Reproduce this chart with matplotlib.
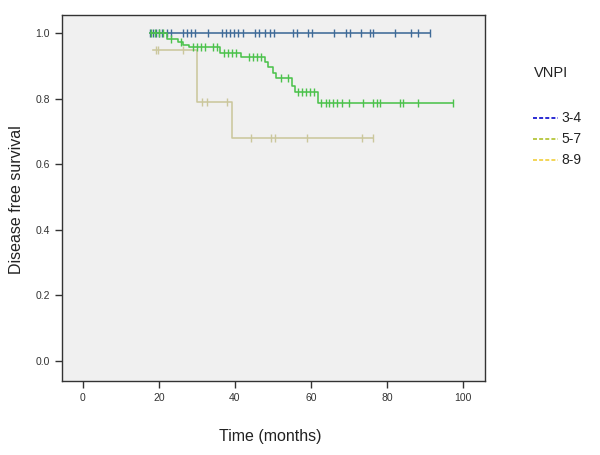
import numpy as np
import matplotlib
matplotlib.use("Agg")
import matplotlib.pyplot as plt
from matplotlib.lines import Line2D

plt.rcParams['font.family'] = ['Liberation Sans', 'DejaVu Sans']

# ---- data ----
groups = ["3-4", "5-7", "8-9"]

# group 3-4 : no events
blue_start, blue_s0 = 17.6, 1.0
blue_event_t = []
blue_event_s = []
blue_cens = [17.6, 18.4, 19.2, 20.0, 20.8, 22.1, 23.2, 26.3, 27.4, 28.4, 29.5, 32.9,
             36.6, 37.6, 38.7, 39.7, 40.8, 42.1, 45.3, 46.3, 47.9, 49.2, 50.3,
             55.3, 56.3, 59.2, 60.3, 66.1, 69.2, 70.3, 73.2, 75.5, 76.3, 82.1,
             86.3, 88.2, 91.3]

# group 5-7
green_start, green_s0 = 17.6, 1.0
green_event_t = [22.0, 25.0, 26.3, 27.8, 36.0, 41.6, 47.9, 48.8, 49.9, 50.8, 55.0, 55.8, 61.8]
green_event_s = [0.981, 0.972, 0.964, 0.957, 0.940, 0.928, 0.912, 0.895, 0.877, 0.862, 0.838, 0.820, 0.786]
green_cens = [18.0, 19.0, 20.0, 21.0, 23.2, 25.8, 29.0, 30.0, 31.0, 32.0, 34.2, 35.3,
              37.2, 38.2, 39.2, 40.3, 43.7, 44.7, 45.8, 46.8, 52.1, 54.0,
              56.6, 57.6, 58.7, 59.8, 60.8, 62.6, 64.0, 64.7, 65.8, 66.8, 68.2,
              70.0, 73.7, 76.3, 77.4, 78.2, 83.4, 84.2, 88.2, 97.4]

# group 8-9
tan_start, tan_s0 = 18.4, 0.948
tan_event_t = [30.0, 39.2]
tan_event_s = [0.790, 0.679]
tan_cens = [19.2, 19.7, 26.3, 31.3, 32.6, 37.9, 44.2, 49.5, 50.5, 58.9, 73.4, 76.3]

x_ticks = [0, 20, 40, 60, 80, 100]
y_ticks = [0.0, 0.2, 0.4, 0.6, 0.8, 1.0]

curve_colors = ["#3F6B98", "#4CC24C", "#CBC79C"]
legend_colors = ["#1A1AD0", "#B5C63A", "#F2D24A"]

# ---- figure ----
fig = plt.figure(figsize=(6.0, 4.55), dpi=100)
ax = fig.add_axes([62/600, 1-381/455, (485-62)/600, (381-15)/455])
ax.set_facecolor("#F0F0F0")


def survival_at(t, start, s0, ev_t, ev_s):
    s = s0
    for et, es in zip(ev_t, ev_s):
        if t >= et:
            s = es
    return s


def draw(start, s0, ev_t, ev_s, cens, color, z):
    end = max(cens + ev_t)
    xs = [start] + list(ev_t) + [end]
    ys = [s0] + list(ev_s) + [ev_s[-1] if ev_s else s0]
    ax.step(xs, ys, where="post", color=color, lw=1.15, zorder=z)
    cy = [survival_at(c, start, s0, ev_t, ev_s) for c in cens]
    ax.plot(cens, cy, linestyle="none", marker="|", markersize=6, mew=1.0,
            color=color, zorder=z)


draw(tan_start, tan_s0, tan_event_t, tan_event_s, tan_cens, curve_colors[2], 3)
draw(blue_start, blue_s0, blue_event_t, blue_event_s, blue_cens, curve_colors[0], 4)
draw(green_start, green_s0, green_event_t, green_event_s, green_cens, curve_colors[1], 5)

ax.set_xlim(-5.5, 105.8)
ax.set_ylim(-0.061, 1.055)
ax.set_xticks(x_ticks)
ax.set_yticks(y_ticks)
ax.set_yticklabels([f"{v:.1f}" for v in y_ticks])
ax.tick_params(direction="out", length=5, width=1, labelsize=7.5, colors="#333333",
               labelcolor="#333333")
for sp in ax.spines.values():
    sp.set_color("#333333")
    sp.set_linewidth(1.0)

fig.text(270/600, 1-436/455, "Time (months)", ha="center", va="center", fontsize=11.5,
         color="#222222")
fig.text(17/600, 1-200/455, "Disease free survival", ha="center", va="center",
         rotation=90, fontsize=11.5, color="#222222")

# legend
fig.text(551/600, 1-73/455, "VNPI", ha="center", va="center", fontsize=10.5, color="#222222")
for i, (g, c) in enumerate(zip(groups, legend_colors)):
    y = 1 - (118 + 21*i)/455
    fig.add_artist(Line2D([533/600, 558/600], [y, y], transform=fig.transFigure,
                          color=c, lw=1.3, linestyle=(0, (2.2, 1.2))))
    fig.text(561/600, y, g, ha="left", va="center", fontsize=10, color="#222222")

fig.savefig("out.png", dpi=100, facecolor="white")
